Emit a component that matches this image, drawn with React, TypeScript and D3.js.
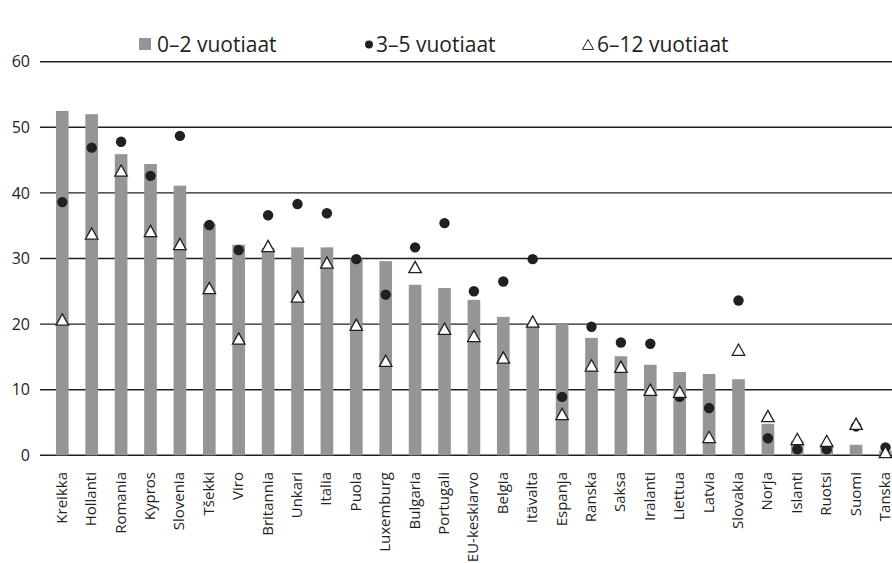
import React from 'react';
import * as d3 from 'd3';

const countries = [
  'Kreikka', 'Hollanti', 'Romania', 'Kypros', 'Slovenia', 'Tšekki', 'Viro', 'Britannia', 'Unkari',
  'Italia', 'Puola', 'Luxemburg', 'Bulgaria', 'Portugali', 'EU-keskiarvo', 'Belgia', 'Itävalta',
  'Espanja', 'Ranska', 'Saksa', 'Iralanti', 'Liettua', 'Latvia', 'Slovakia', 'Norja', 'Islanti',
  'Ruotsi', 'Suomi', 'Tanska',
];

// 0–2 vuotiaat (bars)
const age0to2 = [
  52.5, 52.0, 45.9, 44.4, 41.1, 35.3, 32.1, 31.6, 31.7, 31.7, 30.0, 29.6, 26.0, 25.5, 23.7, 21.1,
  19.9, 20.0, 17.9, 15.1, 13.8, 12.7, 12.4, 11.6, 4.8, 2.2, 1.7, 1.6, 0.7,
];
// 3–5 vuotiaat (dots)
const age3to5 = [
  38.6, 46.9, 47.8, 42.6, 48.7, 35.1, 31.3, 36.6, 38.3, 36.9, 29.9, 24.5, 31.7, 35.4, 25.0, 26.5,
  29.9, 8.9, 19.6, 17.2, 17.0, 8.9, 7.2, 23.6, 2.6, 0.9, 0.9, 4.4, 1.2,
];
// 6–12 vuotiaat (triangles)
const age6to12 = [
  20.7, 33.8, 43.4, 34.2, 32.2, 25.5, 17.8, 31.9, 24.2, 29.4, 19.9, 14.4, 28.7, 19.3, 18.2, 14.9,
  20.4, 6.3, 13.7, 13.5, 10.0, 9.7, 2.8, 16.1, 6.0, 2.5, 2.2, 4.8, 0.5,
];
const yTicks = [0, 10, 20, 30, 40, 50, 60];
const legendLabels = ['0–2 vuotiaat', '3–5 vuotiaat', '6–12 vuotiaat'];

const W = 892;
const H = 563;
const FONT = '"Open Sans", "DejaVu Sans", sans-serif';
const BAR = '#939598';
const INK = '#231f20';

const triPath = (cx: number, cy: number, s: number) => {
  const h = s * 0.9;
  return `M${cx},${cy - h / 2}L${cx + s / 2},${cy + h / 2}L${cx - s / 2},${cy + h / 2}Z`;
};

export default function App() {
  const x = d3.scaleBand<string>()
    .domain(countries)
    .range([47.6, 900.2])
    .paddingInner(0.57)
    .paddingOuter(0.285);

  const y = d3.scaleLinear().domain([0, 60]).range([455.3, 61.7]);

  const cx = (c: string) => (x(c) as number) + x.bandwidth() / 2;

  return (
    <svg width={W} height={H} style={{ position: 'absolute', left: 0, top: 0, background: '#fff' }}
      fontFamily={FONT}>
      {/* gridlines + y labels */}
      {yTicks.map(t => (
        <g key={t}>
          <line x1={40} x2={W} y1={y(t)} y2={y(t)} stroke={INK} strokeWidth={1.4} />
          <text x={30} y={y(t)} dy="0.36em" textAnchor="end" fontSize={16} fill={INK}>{t}</text>
        </g>
      ))}

      {/* bars */}
      {countries.map((c, i) => (
        <rect key={c} x={x(c)} width={x.bandwidth()} y={y(age0to2[i])}
          height={y(0) - y(age0to2[i])} fill={BAR} />
      ))}

      {/* dots */}
      {countries.map((c, i) => (
        <circle key={c} cx={cx(c)} cy={y(age3to5[i])} r={5.2} fill={INK} />
      ))}

      {/* triangles */}
      {countries.map((c, i) => (
        <path key={c} d={triPath(cx(c), y(age6to12[i]), 12.5)} fill="#fff" stroke={INK} strokeWidth={1.3} />
      ))}

      {/* category labels */}
      {countries.map(c => (
        <text key={c} transform={`translate(${cx(c) + 4.5},472) rotate(-90)`} textAnchor="end"
          fontSize={15} fill={INK}>{c}</text>
      ))}

      {/* legend */}
      <g fontSize={21} fill={INK}>
        <rect x={139} y={38} width={12} height={12} fill={BAR} />
        <text x={157} y={52}>{legendLabels[0]}</text>
        <circle cx={369} cy={44.5} r={4} fill={INK} />
        <text x={376} y={52}>{legendLabels[1]}</text>
        <path d={triPath(588, 44.5, 11)} fill="#fff" stroke={INK} strokeWidth={1} />
        <text x={597} y={52}>{legendLabels[2]}</text>
      </g>
    </svg>
  );
}
